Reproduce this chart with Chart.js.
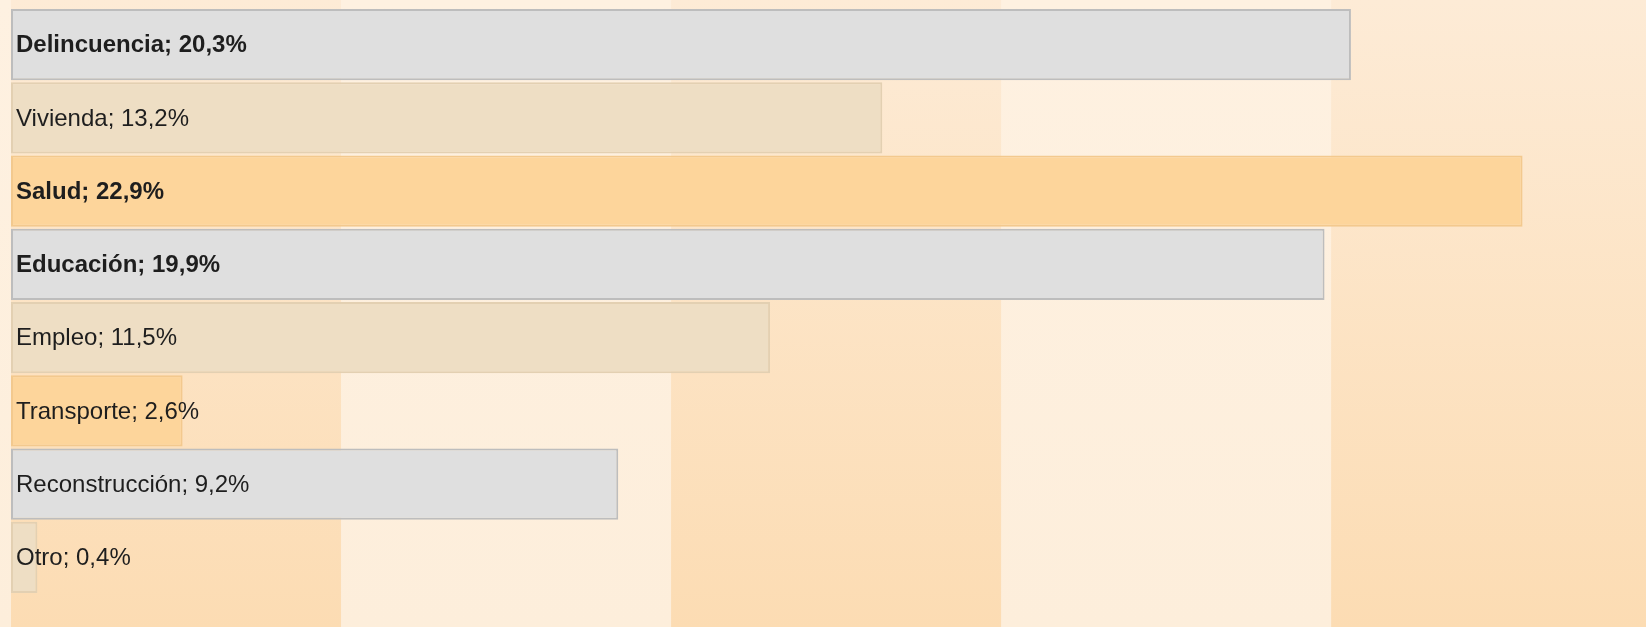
<!DOCTYPE html>
<html>
<head>
<meta charset="utf-8">
<script src="https://cdn.jsdelivr.net/npm/chart.js@4"></script>
<style>
  html, body { margin: 0; padding: 0; background: #FDF0E0; }
  #wrap { width: 1646px; height: 627px; position: relative; }
</style>
</head>
<body>
<div id="wrap"><canvas id="c"></canvas></div>
<script>
const categories = ["Delincuencia", "Vivienda", "Salud", "Educación", "Empleo", "Transporte", "Reconstrucción", "Otro"];
const values = [20.3, 13.2, 22.9, 19.9, 11.5, 2.6, 9.2, 0.4];
const boldLabels = [true, false, true, true, false, false, false, false];
const bandStep = 5;

const fills = ["#DFDFDF", "#EEDEC4", "#FDD59B"];
const borders = ["#BDBDBD", "#E3D0B2", "#F3C98E"];

const bgPlugin = {
  id: 'bands',
  beforeDraw(chart) {
    const ctx = chart.ctx;
    const xs = chart.scales.x;
    const H = chart.height, W = chart.width;
    ctx.save();
    const light = ctx.createLinearGradient(0, 0, 0, H);
    light.addColorStop(0, '#FEF1E1');
    light.addColorStop(1, '#FDEEDB');
    ctx.fillStyle = light;
    ctx.fillRect(0, 0, W, H);
    const dark = ctx.createLinearGradient(0, 0, 0, H);
    dark.addColorStop(0, '#FDEBD6');
    dark.addColorStop(1, '#FCDCB3');
    ctx.fillStyle = dark;
    for (let v = 0; v < xs.max + bandStep; v += 2 * bandStep) {
      const x0 = xs.getPixelForValue(v);
      const x1 = xs.getPixelForValue(v + bandStep);
      ctx.fillRect(x0, 0, x1 - x0, H);
    }
    ctx.restore();
  }
};

const labelPlugin = {
  id: 'barLabels',
  afterDatasetsDraw(chart) {
    const ctx = chart.ctx;
    const meta = chart.getDatasetMeta(0);
    ctx.save();
    ctx.textBaseline = 'middle';
    ctx.textAlign = 'left';
    ctx.fillStyle = '#1E1E1E';
    meta.data.forEach((bar, i) => {
      const txt = categories[i] + '; ' + values[i].toFixed(1).replace('.', ',') + '%';
      ctx.font = (boldLabels[i] ? 'bold ' : '') + '24px "Liberation Sans", Arial, sans-serif';
      ctx.fillText(txt, bar.base + 5, bar.y + 1);
    });
    ctx.restore();
  }
};

new Chart(document.getElementById('c'), {
  type: 'bar',
  data: {
    labels: categories,
    datasets: [{
      data: values,
      backgroundColor: values.map((v, i) => fills[i % 3]),
      borderColor: values.map((v, i) => borders[i % 3]),
      borderWidth: 2,
      borderSkipped: false,
      categoryPercentage: 1,
      barPercentage: 0.975
    }]
  },
  options: {
    indexAxis: 'y',
    responsive: true,
    maintainAspectRatio: false,
    animation: false,
    layout: { padding: { left: 11, top: 8, bottom: 33, right: 0 } },
    plugins: { legend: { display: false }, tooltip: { enabled: false } },
    scales: {
      x: { display: false, min: 0, max: 24.77 },
      y: { display: false }
    }
  },
  plugins: [bgPlugin, labelPlugin]
});
</script>
</body>
</html>
